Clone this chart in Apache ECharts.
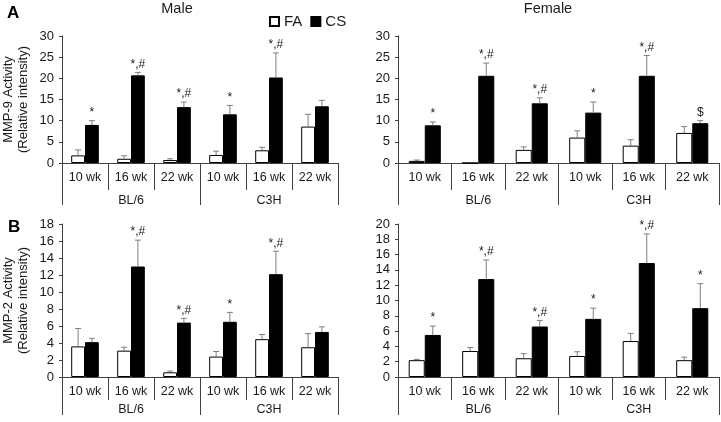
<!DOCTYPE html>
<html>
<head>
<meta charset="utf-8">
<script src="https://cdn.jsdelivr.net/npm/echarts@6/dist/echarts.min.js"></script>
<style>html,body{margin:0;padding:0;background:#fff;}#c{width:721px;height:422px;}</style>
</head>
<body>
<div id="c"></div>
<script>
const categories = ['10 wk','16 wk','22 wk','10 wk','16 wk','22 wk'];
const groups = ['BL/6','C3H'];

const maleMMP9_FA     = [1.8, 1.0, 0.7, 1.9, 3.0, 8.6];
const maleMMP9_FA_err = [1.3, 0.7, 0.3, 0.9, 0.7, 2.9];
const maleMMP9_CS     = [9.0, 20.7, 13.2, 11.5, 20.2, 13.4];
const maleMMP9_CS_err = [1.0, 0.7, 1.2, 2.1, 5.8, 1.4];
const maleMMP9_sig    = ['*','*,#','*,#','*','*,#',''];

const femaleMMP9_FA     = [0.5, 0, 3.1, 6.0, 4.1, 7.1];
const femaleMMP9_FA_err = [0.2, 0, 0.7, 1.6, 1.4, 1.5];
const femaleMMP9_CS     = [8.9, 20.6, 14.1, 11.9, 20.6, 9.4];
const femaleMMP9_CS_err = [0.8, 3.0, 1.3, 2.5, 4.8, 0.6];
const femaleMMP9_sig    = ['*','*,#','*,#','*','*,#','$'];

const maleMMP2_FA     = [3.6, 3.1, 0.55, 2.4, 4.45, 3.5];
const maleMMP2_FA_err = [2.1, 0.4, 0.15, 0.6, 0.55, 1.6];
const maleMMP2_CS     = [4.1, 13.0, 6.4, 6.5, 12.1, 5.3];
const maleMMP2_CS_err = [0.45, 3.1, 0.5, 1.1, 2.7, 0.6];
const maleMMP2_sig    = ['','*,#','*,#','*','*,#',''];

const femaleMMP2_FA     = [2.2, 3.4, 2.45, 2.75, 4.7, 2.2];
const femaleMMP2_FA_err = [0.1, 0.45, 0.6, 0.55, 1.0, 0.4];
const femaleMMP2_CS     = [5.5, 12.8, 6.6, 7.6, 14.9, 9.0];
const femaleMMP2_CS_err = [1.15, 2.5, 0.8, 1.4, 3.8, 3.2];
const femaleMMP2_sig    = ['*','*,#','*,#','*','*,#','*'];

const FONT = 'Liberation Sans, Arial, sans-serif';
const AX = '#404040';
const TXT = '#1a1a1a';

const panels = [
  {grid:{left:62, top:36, width:276, height:127}, max:30, interval:5, name:'MMP-9 Activity\n(Relative intensity)', tickLen:27, grpMargin:4,
   fa:maleMMP9_FA, faErr:maleMMP9_FA_err, cs:maleMMP9_CS, csErr:maleMMP9_CS_err, sig:maleMMP9_sig},
  {grid:{left:398, top:36, width:321, height:127}, max:30, interval:5, name:'', tickLen:27, grpMargin:4,
   fa:femaleMMP9_FA, faErr:femaleMMP9_FA_err, cs:femaleMMP9_CS, csErr:femaleMMP9_CS_err, sig:femaleMMP9_sig},
  {grid:{left:62, top:224, width:276, height:153}, max:18, interval:2, name:'MMP-2 Activity\n(Relative intensity)', tickLen:23, grpMargin:3,
   fa:maleMMP2_FA, faErr:maleMMP2_FA_err, cs:maleMMP2_CS, csErr:maleMMP2_CS_err, sig:maleMMP2_sig},
  {grid:{left:398, top:224, width:321, height:153}, max:20, interval:2, name:'', tickLen:23, grpMargin:3,
   fa:femaleMMP2_FA, faErr:femaleMMP2_FA_err, cs:femaleMMP2_CS, csErr:femaleMMP2_CS_err, sig:femaleMMP2_sig}
];

const BAR_FRAC = 0.30;

function errRender(sign, sigArr) {
  return function (params, api) {
    const i = api.value(0), v = api.value(1), e = api.value(2);
    const base = api.coord([i, v]);
    const top = api.coord([i, v + e]);
    const catW = api.size([1, 0])[0];
    const x = base[0] + sign * catW * BAR_FRAC / 2;
    const children = [];
    if (e > 0) {
      children.push({type:'line', shape:{x1:x, y1:base[1], x2:x, y2:top[1]}, style:{stroke:'#7f7f7f', lineWidth:1}});
      children.push({type:'line', shape:{x1:x-3, y1:top[1], x2:x+3, y2:top[1]}, style:{stroke:'#7f7f7f', lineWidth:1}});
    }
    if (sigArr && sigArr[params.dataIndex]) {
      children.push({type:'text', style:{text:sigArr[params.dataIndex], x:x, y:top[1]-2, align:'center', verticalAlign:'bottom',
        font:'12px ' + FONT, fill:TXT}});
    }
    return {type:'group', children:children};
  };
}

const grids = [], xAxes = [], yAxes = [], series = [];
panels.forEach((p, k) => {
  grids.push(Object.assign({containLabel:false}, p.grid));
  xAxes.push({type:'category', gridIndex:k, data:categories, position:'bottom',
    axisLine:{show:true, lineStyle:{color:AX, width:1}},
    axisTick:{show:true, interval:0, length:p.tickLen, lineStyle:{color:AX}},
    axisLabel:{interval:0, margin:8, fontSize:12.5, color:TXT, fontFamily:FONT}});
  xAxes.push({type:'category', gridIndex:k, data:groups, position:'bottom', offset:p.tickLen,
    axisLine:{show:false},
    axisTick:{show:true, interval:0, length:15, lineStyle:{color:AX}},
    axisLabel:{interval:0, margin:p.grpMargin, fontSize:12.5, color:TXT, fontFamily:FONT}});
  yAxes.push({type:'value', gridIndex:k, min:0, max:p.max, interval:p.interval,
    name:p.name, nameLocation:'middle', nameGap:31, nameRotate:90,
    nameTextStyle:{fontSize:13, color:TXT, fontFamily:FONT, lineHeight:15},
    axisLine:{show:true, lineStyle:{color:AX}},
    axisTick:{show:true, length:3, lineStyle:{color:AX}},
    splitLine:{show:false},
    axisLabel:{margin:8, fontSize:13, color:TXT, fontFamily:FONT}});
  const xi = k * 2;
  series.push({name:'FA', type:'bar', xAxisIndex:xi, yAxisIndex:k, data:p.fa, barGap:'0%', barCategoryGap:'40%',
    itemStyle:{color:'#ffffff', borderColor:'#000', borderWidth:1}, z:2});
  series.push({name:'CS', type:'bar', xAxisIndex:xi, yAxisIndex:k, data:p.cs, barGap:'0%', barCategoryGap:'40%',
    itemStyle:{color:'#000000', borderColor:'#000', borderWidth:1}, z:2});
  series.push({type:'custom', xAxisIndex:xi, yAxisIndex:k, z:1,
    data:p.fa.map((v, i) => [i, v, p.faErr[i]]), encode:{x:0, y:1}, renderItem:errRender(-1, null)});
  series.push({type:'custom', xAxisIndex:xi, yAxisIndex:k, z:3,
    data:p.cs.map((v, i) => [i, v, p.csErr[i]]), encode:{x:0, y:1}, renderItem:errRender(1, p.sig)});
});

const chart = echarts.init(document.getElementById('c'), null, {renderer:'canvas'});
chart.setOption({
  animation:false,
  backgroundColor:'#fff',
  grid:grids, xAxis:xAxes, yAxis:yAxes, series:series,
  legend:{data:['FA','CS'], left:264, top:9, itemWidth:9, itemHeight:9, itemGap:8, icon:'rect',
    textStyle:{fontSize:15, color:TXT, fontFamily:FONT}},
  graphic:[
    {type:'text', left:7, top:5, style:{text:'A', font:'bold 17px ' + FONT, fill:'#000'}},
    {type:'text', left:8, top:219, style:{text:'B', font:'bold 17px ' + FONT, fill:'#000'}},
    {type:'text', x:177, y:9, style:{text:'Male', font:'14.5px ' + FONT, fill:TXT, align:'center', verticalAlign:'middle'}},
    {type:'text', x:548, y:9, style:{text:'Female', font:'14.5px ' + FONT, fill:TXT, align:'center', verticalAlign:'middle'}}
  ]
});
</script>
</body>
</html>
